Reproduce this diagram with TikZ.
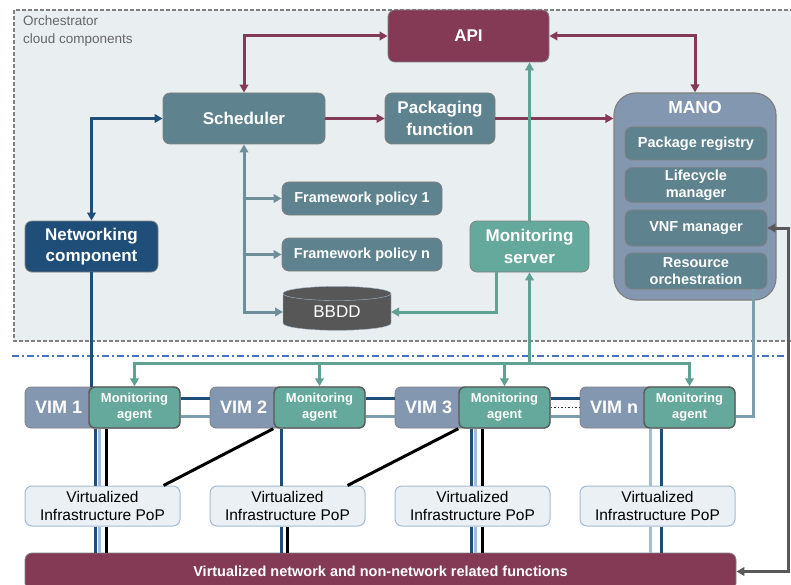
\documentclass[tikz,border=0pt]{standalone}
\usepackage{fontspec}
\setmainfont{Liberation Sans}
\usetikzlibrary{arrows.meta,shapes.geometric}

\definecolor{cwine}{HTML}{843A55}
\definecolor{cslate}{HTML}{5E838F}
\definecolor{cnavy}{HTML}{1F4E79}
\definecolor{cmint}{HTML}{64A99B}
\definecolor{csteel}{HTML}{8497B0}
\definecolor{cpaper}{HTML}{E9EEF1}
\definecolor{cpop}{HTML}{EAF0F4}
\definecolor{cpopedge}{HTML}{A3BBD3}
\definecolor{cdb}{HTML}{575757}
\definecolor{cdash}{HTML}{4472C4}
\definecolor{cpale}{HTML}{A3BDD6}
\definecolor{crole}{HTML}{7A9EAB}

\tikzset{
  box/.style={draw=black!50, line width=0.8pt, rounded corners=7pt, text=white, align=center,
    inner sep=2pt, font=\bfseries\fontsize{17}{21.5}\selectfont},
  winebox/.style={box, fill=cwine},
  slatebox/.style={box, fill=cslate},
  navybox/.style={box, fill=cnavy},
  mintbox/.style={box, fill=cmint},
  smallbox/.style={slatebox, font=\bfseries\fontsize{14.5}{17.5}\selectfont},
  manobox/.style={box, fill=csteel, rounded corners=22pt, line width=1.2pt},
  vimbox/.style={box, fill=csteel, minimum width=155pt, minimum height=41pt, rounded corners=6pt},
  vimtext/.style={anchor=west, xshift=7pt, text=white, font=\bfseries\fontsize{18}{20}\selectfont},
  agentbox/.style={box, fill=cmint, draw=black!65, line width=1.4pt, minimum width=91pt,
    minimum height=41pt, rounded corners=6pt, font=\bfseries\fontsize{13}{16}\selectfont},
  popbox/.style={draw=cpopedge, fill=cpop, line width=1pt, rounded corners=7pt, minimum width=155pt,
    minimum height=40pt, align=center, font=\fontsize{15.5}{18}\selectfont},
  dbshape/.style={cylinder, shape border rotate=90, aspect=0.3, draw=cpopedge, fill=cdb,
    minimum width=108pt, minimum height=44pt, text=white, font=\fontsize{17}{19}\selectfont, inner sep=0pt},
  orchzone/.style={draw=black!50, line width=1.3pt, dash pattern=on 4pt off 2pt, fill=cpaper},
  zonetitle/.style={text=black!60, align=left, font=\fontsize{13.5}{18}\selectfont, inner sep=0pt},
  sepline/.style={draw=cdash, line width=1.5pt, dash pattern=on 7pt off 3pt on 2pt off 3pt},
  link/.style={line width=3pt, >={Triangle[length=8pt,width=8.5pt]}},
  winelink/.style={link, draw=cwine},
  navylink/.style={link, draw=cnavy},
  slatelink/.style={link, draw=cslate!90!white},
  mintlink/.style={link, draw=cmint!95!black},
  rolelink/.style={link, draw=crole},
  palelink/.style={link, draw=cpale},
  blacklink/.style={link, draw=black},
  graylink/.style={link, draw=black!65},
  dotlink/.style={line width=1.5pt, dotted, draw=black!80}
}

\begin{document}
\begin{tikzpicture}[x=1pt,y=-1pt]
  \useasboundingbox (0,0) rectangle (791,585);

  % orchestrator side
  \draw[orchzone] (14,10) rectangle (805,341);
  \node[zonetitle, anchor=north west] (zone) at (23,16) {Orchestrator\\cloud components};
  \draw[sepline] (12,356) -- (795,356);

  \node[winebox, minimum width=161pt, minimum height=52pt] (api) at (468.5,36) {API};
  \node[slatebox, minimum width=162pt, minimum height=51pt] (sched) at (244,118.5) {Scheduler};
  \node[slatebox, minimum width=110pt, minimum height=51pt] (pack) at (440,118.5) {Packaging\\function};
  \node[navybox, minimum width=133pt, minimum height=51pt] (net) at (91.5,246.5) {Networking\\component};
  \node[smallbox, minimum width=160pt, minimum height=33pt] (fp1) at (362,198.5) {Framework policy 1};
  \node[smallbox, minimum width=160pt, minimum height=33pt] (fpn) at (362,254.5) {Framework policy n};
  \node[dbshape] (bbdd) at (337,312) {BBDD};
  \node[mintbox, minimum width=119pt, minimum height=51pt] (mon) at (529.5,246.5) {Monitoring\\server};

  % MANO
  \node[manobox, minimum width=162pt, minimum height=207pt] (mano) at (695,196.5) {};
  \node[text=white, font=\bfseries\fontsize{17.5}{20}\selectfont] (manolbl) at (695,107) {MANO};
  \node[smallbox, minimum width=142pt, minimum height=33pt] (reg) at (696,143.5) {Package registry};
  \node[smallbox, minimum width=142pt, minimum height=34pt, font=\bfseries\fontsize{14.5}{17}\selectfont] (life) at (696,185) {Lifecycle\\manager};
  \node[smallbox, minimum width=142pt, minimum height=36pt] (vnf) at (696,228) {VNF manager};
  \node[smallbox, minimum width=142pt, minimum height=36pt, font=\bfseries\fontsize{14.5}{17}\selectfont] (res) at (696,271) {Resource\\orchestration};

  % infrastructure side
  \foreach \v [count=\k from 0] in {1,2,3,n}{
    \node[vimbox, label={[vimtext]west:VIM \v}] (vim\v) at ({102.5+185*\k},407.5) {};
    \node[agentbox] (ag\v) at ({134.5+185*\k},407.5) {Monitoring\\agent};
    \node[popbox] (pop\v) at ({102.5+185*\k},506) {Virtualized\\Infrastructure PoP};
  }
  \node[winebox, minimum width=711pt, minimum height=37pt, font=\bfseries\fontsize{14.5}{17}\selectfont] (bar) at (380.5,571.5) {Virtualized network and non-network related functions};

  % orchestrator links
  \draw[winelink,<->] (sched.north) |- (api.west);
  \draw[winelink,<->] (api.east) -| (mano.north);
  \draw[winelink,->] (sched.east) -- (pack.west);
  \draw[winelink,->] (pack.east) -- (pack.east -| mano.west);
  \draw[navylink,<->] (net.north) |- (sched.west);
  \draw[navylink] (net.south) -- (net.south |- vim1.north);
  \draw[slatelink,<->] (sched.south) |- ([xshift=-54pt]bbdd.center);
  \draw[slatelink,->] (sched.south |- fp1.west) -- (fp1.west);
  \draw[slatelink,->] (sched.south |- fpn.west) -- (fpn.west);
  \draw[mintlink,->] (mon.north) -- (mon.north |- api.south);
  \draw[mintlink,->] ([xshift=-33.5pt]mon.south) |- ([xshift=54pt]bbdd.center);

  % monitoring bus
  \coordinate (bus) at (0,363);
  \draw[mintlink,<->] (ag1.north) |- (bus -| mon.south) -| (agn.north);
  \draw[mintlink,->] (bus -| mon.south) -- (mon.south);
  \draw[mintlink,->] (bus -| ag2.north) -- (ag2.north);
  \draw[mintlink,->] (bus -| ag3.north) -- (ag3.north);

  % between VIMs
  \foreach \a/\b in {1/2,2/3,3/n}{
    \draw[navylink] ([yshift=9.5pt]ag\a.east) -- ([yshift=9.5pt]vim\b.west);
    \draw[rolelink] ([yshift=-9pt]ag\a.east) -- ([yshift=-9pt]vim\b.west);
  }
  \draw[dotlink] (ag3.east) -- (vimn.west);
  \draw[rolelink] ([xshift=-14pt]res.south east) |- ([yshift=-9pt]agn.east);
  \draw[graylink,<->] (vnf.east) -- ++(21,0) |- (bar.east);

  % agents to PoPs
  \draw[blacklink] (ag2.south west) -- ([xshift=-17pt]pop1.north east);
  \draw[blacklink] (ag3.south west) -- ([xshift=-18pt]pop2.north east);

  % down to functions
  \foreach \c/\dx/\sty in {1/7/navylink, 1/11/palelink, 1/18/blacklink, 2/8/navylink,
      3/13/navylink, 3/17.5/palelink, 3/24/blacklink, n/7/palelink, n/18/navylink}{
    \draw[\sty] ([xshift=\dx pt]ag\c.south west) -- ([xshift=\dx pt]ag\c.south west |- pop\c.north);
    \draw[\sty] ([xshift=\dx pt]ag\c.south west |- pop\c.south) -- ([xshift=\dx pt]ag\c.south west |- bar.north);
  }
  \draw[blacklink] ([xshift=14pt]ag2.south west |- pop2.south) -- ([xshift=14pt]ag2.south west |- bar.north);
\end{tikzpicture}
\end{document}
